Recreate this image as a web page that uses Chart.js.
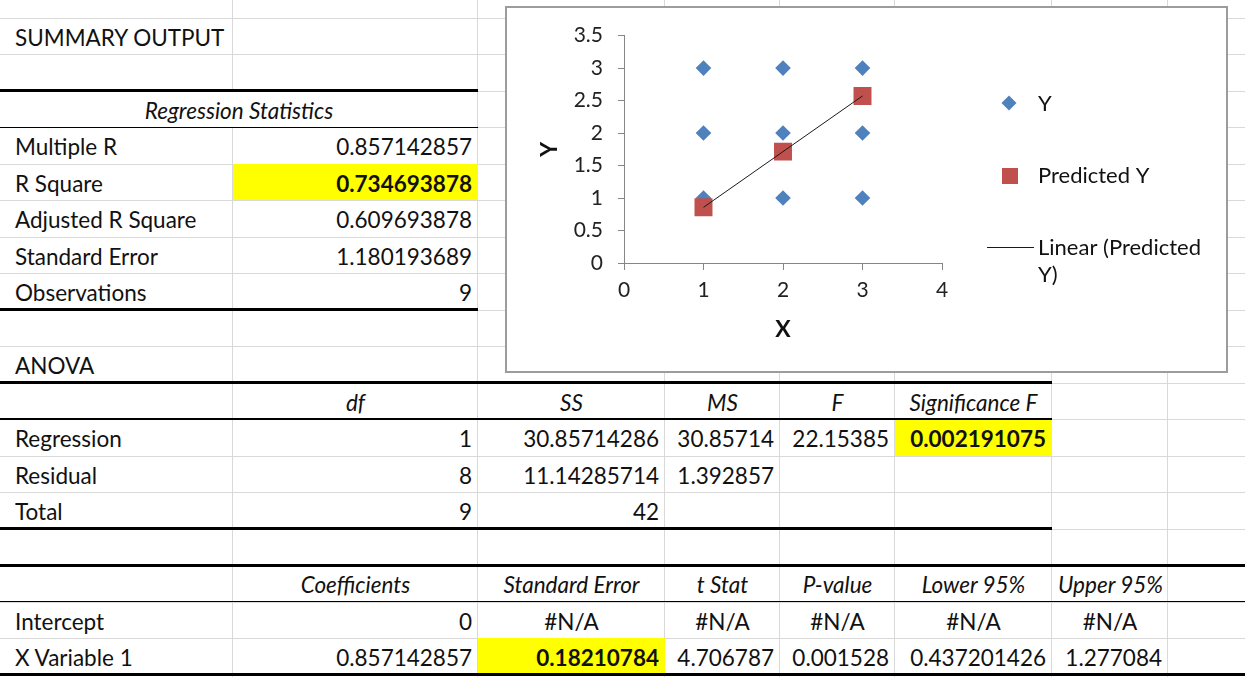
<!DOCTYPE html>
<html>
<head>
<meta charset="utf-8">
<title>Regression summary output</title>
<script src="https://cdn.jsdelivr.net/npm/chart.js@4/dist/chart.umd.min.js"></script>
<style>
html, body { margin: 0; padding: 0; background: #fff; }
#sheet { position: relative; width: 1245px; height: 677px; overflow: hidden;
  font-family: Lato, "Open Sans", sans-serif; font-size: 22.5px; color: #111; }
.grid { position: absolute; background: #d9d9d9; }
.cell { position: absolute; white-space: nowrap; box-sizing: border-box; padding: 2px 6px 0 6px; }
.rule { position: absolute; background: #000; }
#chartBox { position: absolute; left: 505px; top: 6px; width: 723px; height: 367px;
  box-sizing: border-box; border: 2px solid #9c9c9c; background: #fff; z-index: 5; }
#chartBox canvas { display: block; }
</style>
</head>
<body>
<div id="sheet">
  <div id="chartBox"><canvas id="scatter" width="719" height="363"></canvas></div>
</div>
<script>
// ---- chart data ----
const obsX = [1, 1, 1, 2, 2, 2, 3, 3, 3];
const obsY = [1, 2, 3, 1, 2, 3, 1, 2, 3];
const predX = [1, 2, 3];
const predY = [0.857142857, 1.714285714, 2.571428571];
const xAxisTicks = [0, 1, 2, 3, 4];
const yAxisTicks = [0, 0.5, 1, 1.5, 2, 2.5, 3, 3.5];
const seriesNames = ['Y', 'Predicted Y', 'Linear (Predicted Y)'];

// ---- sheet text ----
const regStatLabels = ['Multiple R', 'R Square', 'Adjusted R Square', 'Standard Error', 'Observations'];
const regStatValues = ['0.857142857', '0.734693878', '0.609693878', '1.180193689', '9'];
const anovaHeaders = ['df', 'SS', 'MS', 'F', 'Significance F'];
const anovaLabels = ['Regression', 'Residual', 'Total'];
const anovaValues = [
  ['1', '30.85714286', '30.85714', '22.15385', '0.002191075'],
  ['8', '11.14285714', '1.392857', '', ''],
  ['9', '42', '', '', '']
];
const coefHeaders = ['Coefficients', 'Standard Error', 't Stat', 'P-value', 'Lower 95%', 'Upper 95%'];
const coefLabels = ['Intercept', 'X Variable 1'];
const coefValues = [
  ['0', '#N/A', '#N/A', '#N/A', '#N/A', '#N/A'],
  ['0.857142857', '0.18210784', '4.706787', '0.001528', '0.437201426', '1.277084']
];

// ---- sheet layout ----
const colX = [0, 233, 478, 665, 780, 895, 1052, 1168, 1300];
const rowTop0 = 18, rowH = 36.47;
const rowY = r => rowTop0 + (r - 1) * rowH;
const sheet = document.getElementById('sheet');

function box(cls, x, y, w, h, z) {
  const d = document.createElement('div');
  d.className = cls;
  d.style.left = x + 'px'; d.style.top = y + 'px';
  d.style.width = w + 'px'; d.style.height = h + 'px';
  if (z) d.style.zIndex = z;
  sheet.appendChild(d);
  return d;
}

// gridlines
for (let i = 1; i < colX.length - 1; i++) {
  if (colX[i] === 233) {
    box('grid', 232, 0, 1, rowY(3) + 1);
    box('grid', 232, rowY(4), 1, 677);
  } else {
    box('grid', colX[i] - 1, 0, 1, 677);
  }
}
for (let r = 1; r <= 19; r++) box('grid', 0, Math.round(rowY(r)), 1245, 1);

function cell(c0, c1, row, text, o = {}) {
  const d = box('cell', colX[c0], rowY(row), colX[c1 + 1] - colX[c0], rowH, 2);
  d.textContent = text;
  d.style.lineHeight = rowH + 'px';
  d.style.textAlign = o.align || 'left';
  if (c0 === 0 && (o.align || 'left') === 'left') d.style.paddingLeft = '15px';
  if (o.italic) d.style.fontStyle = 'italic';
  if (o.bold) d.style.fontWeight = 'bold';
  if (o.fill) d.style.background = o.fill;
}

cell(0, 0, 1, 'SUMMARY OUTPUT');
cell(0, 1, 3, 'Regression Statistics', { align: 'center', italic: true });
regStatLabels.forEach((t, i) => {
  cell(0, 0, 4 + i, t);
  const hl = t === 'R Square';
  cell(1, 1, 4 + i, regStatValues[i], { align: 'right', bold: hl, fill: hl ? '#ffff00' : null });
});
cell(0, 0, 10, 'ANOVA');
anovaHeaders.forEach((t, i) => cell(1 + i, 1 + i, 11, t, { align: 'center', italic: true }));
anovaLabels.forEach((t, r) => {
  cell(0, 0, 12 + r, t);
  anovaValues[r].forEach((v, i) => {
    const hl = r === 0 && i === 4;
    if (v || hl) cell(1 + i, 1 + i, 12 + r, v, { align: 'right', bold: hl, fill: hl ? '#ffff00' : null });
  });
});
coefHeaders.forEach((t, i) => cell(1 + i, 1 + i, 16, t, { align: 'center', italic: true }));
coefLabels.forEach((t, r) => {
  cell(0, 0, 17 + r, t);
  coefValues[r].forEach((v, i) => {
    const hl = r === 1 && i === 1;
    const al = v === '#N/A' ? 'center' : 'right';
    cell(1 + i, 1 + i, 17 + r, v, { align: al, bold: hl, fill: hl ? '#ffff00' : null });
  });
});

// table rules (thick = 3px, thin = 1.5px)
function rule(row, x1, thick) {
  const h = thick ? 3 : 1.5;
  box('rule', 0, rowY(row) - h / 2, x1, h, 3);
}
rule(3, 478, true); rule(4, 478, false); rule(9, 478, true);
rule(11, 1052, true); rule(12, 1052, false); rule(15, 1052, true);
rule(16, 1245, true); rule(17, 1245, false); rule(19, 1245, true);

// ---- chart ----
const axisGray = '#868686';
const tickFont = { family: 'Lato', size: 21 };
const titleFont = { family: 'Lato', size: 23, weight: 'bold' };

// legend drawn beside the plot, Excel style
const sideLegend = {
  id: 'sideLegend',
  afterDraw(chart) {
    const c = chart.ctx;
    const dsY = chart.data.datasets[2], dsP = chart.data.datasets[1], dsL = chart.data.datasets[0];
    const textX = 531;
    c.save();
    c.font = '22px Lato';
    c.textBaseline = 'middle';
    // Y
    c.fillStyle = dsY.backgroundColor;
    c.beginPath();
    c.moveTo(502 - 7.5, 95); c.lineTo(502, 95 - 7.5); c.lineTo(502 + 7.5, 95); c.lineTo(502, 95 + 7.5);
    c.closePath(); c.fill();
    c.fillStyle = '#111';
    c.fillText(dsY.label, textX, 96);
    // Predicted Y
    c.fillStyle = dsP.backgroundColor;
    c.fillRect(503 - 8, 168 - 8, 16, 16);
    c.fillStyle = '#111';
    c.fillText(dsP.label, textX, 168);
    // Linear (Predicted Y)
    c.strokeStyle = dsL.borderColor;
    c.lineWidth = 1;
    c.beginPath(); c.moveTo(480, 239.5); c.lineTo(527, 239.5); c.stroke();
    const words = dsL.label.split(' ');
    const lines = [];
    let line = '';
    words.forEach(w => {
      const t = line ? line + ' ' + w : w;
      if (c.measureText(t).width > 175 && line) { lines.push(line); line = w; } else line = t;
    });
    lines.push(line);
    lines.forEach((t, i) => c.fillText(t, textX, 240 + i * 27));
    c.restore();
  }
};

new Chart(document.getElementById('scatter'), {
  type: 'scatter',
  data: {
    datasets: [
      {
        label: seriesNames[2],
        data: predX.map((x, i) => ({ x, y: predY[i] })),
        showLine: true, borderColor: '#1a1a1a', borderWidth: 1,
        pointRadius: 0, order: 0
      },
      {
        label: seriesNames[1],
        data: predX.map((x, i) => ({ x, y: predY[i] })),
        pointStyle: 'rect', pointRadius: 12.7, borderWidth: 0,
        backgroundColor: '#c0504d', borderColor: '#c0504d', order: 1
      },
      {
        label: seriesNames[0],
        data: obsX.map((x, i) => ({ x, y: obsY[i] })),
        pointStyle: 'rectRot', pointRadius: 7.8, borderWidth: 0,
        backgroundColor: '#4f81bd', borderColor: '#4f81bd', order: 2
      }
    ]
  },
  options: {
    responsive: false,
    animation: false,
    events: [],
    layout: { padding: { left: 0, top: 26, right: 284, bottom: 0 } },
    plugins: { legend: { display: false }, tooltip: { enabled: false } },
    scales: {
      x: {
        type: 'linear', min: 0, max: 4,
        afterBuildTicks: s => { s.ticks = xAxisTicks.map(v => ({ value: v })); },
        afterFit: s => { s.height = 108; },
        grid: { drawOnChartArea: false, drawTicks: true, tickLength: 7, color: axisGray },
        border: { color: axisGray, width: 1 },
        ticks: { font: tickFont, color: '#222', padding: 8, maxRotation: 0, callback: v => String(v) },
        title: { display: true, text: 'X', font: titleFont, color: '#111', padding: { top: 0, bottom: 28 } }
      },
      y: {
        type: 'linear', min: 0, max: 3.5,
        afterBuildTicks: s => { s.ticks = yAxisTicks.map(v => ({ value: v })); },
        afterFit: s => { s.width = 117; },
        grid: { drawOnChartArea: false, drawTicks: true, tickLength: 6, color: axisGray },
        border: { color: axisGray, width: 1 },
        ticks: { font: tickFont, color: '#222', padding: 15, callback: v => String(v) },
        title: { display: true, text: 'Y', font: titleFont, color: '#111', padding: { top: 29, bottom: 0 } }
      }
    }
  },
  plugins: [sideLegend]
});
</script>
</body>
</html>
